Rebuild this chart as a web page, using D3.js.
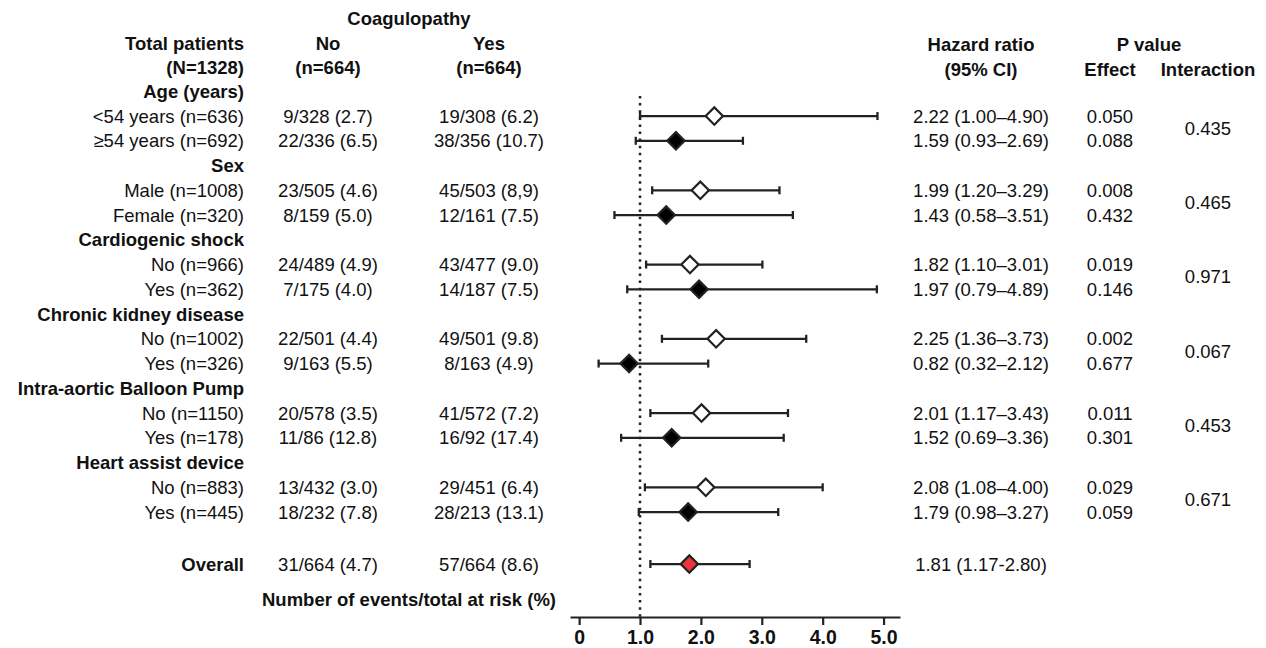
<!DOCTYPE html>
<html>
<head>
<meta charset="utf-8" />
<title>Coagulopathy subgroup forest plot</title>
<script src="https://d3js.org/d3.v7.min.js"></script>
<style>
body { margin: 0; background: #fff; }
svg { display: block; }
text { font-family: Arial, "Liberation Sans", sans-serif; font-size: 18.5px; fill: #111; }
.bold { font-weight: bold; }
.tick text { font-size: 19.5px; }
</style>
</head>
<body>
<div id="chart"></div>
<script>
// subgroup headings and rows
var groups = ["Age (years)", "Sex", "Cardiogenic shock", "Chronic kidney disease",
              "Intra-aortic Balloon Pump", "Heart assist device"];
var subgroups = ["<54 years (n=636)", "\u226554 years (n=692)",
                 "Male (n=1008)", "Female (n=320)",
                 "No (n=966)", "Yes (n=362)",
                 "No (n=1002)", "Yes (n=326)",
                 "No (n=1150)", "Yes (n=178)",
                 "No (n=883)", "Yes (n=445)"];
var noEvents = ["9/328 (2.7)", "22/336 (6.5)", "23/505 (4.6)", "8/159 (5.0)",
                "24/489 (4.9)", "7/175 (4.0)", "22/501 (4.4)", "9/163 (5.5)",
                "20/578 (3.5)", "11/86 (12.8)", "13/432 (3.0)", "18/232 (7.8)"];
var yesEvents = ["19/308 (6.2)", "38/356 (10.7)", "45/503 (8,9)", "12/161 (7.5)",
                 "43/477 (9.0)", "14/187 (7.5)", "49/501 (9.8)", "8/163 (4.9)",
                 "41/572 (7.2)", "16/92 (17.4)", "29/451 (6.4)", "28/213 (13.1)"];
var hr     = [2.22, 1.59, 1.99, 1.43, 1.82, 1.97, 2.25, 0.82, 2.01, 1.52, 2.08, 1.79];
var ciLow  = [1.00, 0.93, 1.20, 0.58, 1.10, 0.79, 1.36, 0.32, 1.17, 0.69, 1.08, 0.98];
var ciHigh = [4.90, 2.69, 3.29, 3.51, 3.01, 4.89, 3.73, 2.12, 3.43, 3.36, 4.00, 3.27];
var pEffect = ["0.050", "0.088", "0.008", "0.432", "0.019", "0.146",
               "0.002", "0.677", "0.011", "0.301", "0.029", "0.059"];
var pInteraction = ["0.435", "0.465", "0.971", "0.067", "0.453", "0.671"];

// overall row
var overallNo = "31/664 (4.7)", overallYes = "57/664 (8.6)";
var overallHr = 1.81, overallLow = 1.17, overallHigh = 2.80;
var overallHrText = "1.81 (1.17-2.80)";

var tickValues = [0, 1, 2, 3, 4, 5];
var tickLabels = ["0", "1.0", "2.0", "3.0", "4.0", "5.0"];

var width = 1266, height = 648;
var svg = d3.select("#chart").append("svg")
    .attr("width", width).attr("height", height);

// row positions: each group takes a heading row + 2 subgroup rows
var y = d3.scaleLinear().domain([0, 1]).range([91.3, 116.05]);
var x = d3.scaleLinear().domain([-0.15, 5.27]).range([570, 900]);

var colLabel = 244, colNo = 328, colYes = 489, colHr = 981, colEff = 1110, colInt = 1208;
var fmt = function(v) { return v.toFixed(2); };
function hrText(i) { return fmt(hr[i]) + " (" + fmt(ciLow[i]) + "\u2013" + fmt(ciHigh[i]) + ")"; }

function txt(xp, yp, s, anchor, bold) {
    return svg.append("text")
        .attr("x", xp).attr("y", yp).attr("dy", "0.35em")
        .attr("text-anchor", anchor)
        .classed("bold", !!bold)
        .text(s);
}

// column headers
txt(409, 19, "Coagulopathy", "middle", true);
txt(colLabel, 44, "Total patients", "end", true);
txt(colLabel, 68, "(N=1328)", "end", true);
txt(colNo, 44, "No", "middle", true);
txt(colNo, 68, "(n=664)", "middle", true);
txt(colYes, 44, "Yes", "middle", true);
txt(colYes, 68, "(n=664)", "middle", true);
txt(colHr, 45, "Hazard ratio", "middle", true);
txt(colHr, 70, "(95% CI)", "middle", true);
txt(1149, 45, "P value", "middle", true);
txt(colEff, 70, "Effect", "middle", true);
txt(colInt, 70, "Interaction", "middle", true);

// reference line at HR = 1
svg.append("line")
    .attr("x1", x(1)).attr("x2", x(1))
    .attr("y1", 96).attr("y2", 617)
    .attr("stroke", "#222").attr("stroke-width", 2.5)
    .attr("stroke-dasharray", "2.5,4.6");

var diamond = d3.symbol().type(d3.symbolSquare).size(150);

function drawRow(yp, est, lo, hi, fill) {
    var g = svg.append("g");
    g.append("line").attr("x1", x(lo)).attr("x2", x(hi)).attr("y1", yp).attr("y2", yp)
        .attr("stroke", "#222").attr("stroke-width", 2.3);
    [lo, hi].forEach(function(v) {
        g.append("line").attr("x1", x(v)).attr("x2", x(v)).attr("y1", yp - 4).attr("y2", yp + 4)
            .attr("stroke", "#222").attr("stroke-width", 2.3);
    });
    g.append("path")
        .attr("d", diamond)
        .attr("transform", "translate(" + x(est) + "," + yp + ") rotate(45)")
        .attr("fill", fill).attr("stroke", "#222").attr("stroke-width", 2.2);
}

groups.forEach(function(gname, gi) {
    var r0 = gi * 3;
    txt(colLabel, y(r0), gname, "end", true);
    for (var k = 0; k < 2; k++) {
        var i = gi * 2 + k, yp = y(r0 + 1 + k);
        txt(colLabel, yp, subgroups[i], "end");
        txt(colNo, yp, noEvents[i], "middle");
        txt(colYes, yp, yesEvents[i], "middle");
        txt(colHr, yp, hrText(i), "middle");
        txt(colEff, yp, pEffect[i], "middle");
        drawRow(yp, hr[i], ciLow[i], ciHigh[i], k === 0 ? "#fff" : "#000");
    }
    txt(colInt, y(r0 + 1.5), pInteraction[gi], "middle");
});

// overall
var yo = y(19.1);
txt(colLabel, yo, "Overall", "end", true);
txt(colNo, yo, overallNo, "middle");
txt(colYes, yo, overallYes, "middle");
txt(colHr, yo, overallHrText, "middle");
drawRow(yo, overallHr, overallLow, overallHigh, "#e8343a");

txt(409, 600, "Number of events/total at risk (%)", "middle", true);

// x axis
var axis = svg.append("g")
    .attr("transform", "translate(0,617)")
    .call(d3.axisBottom(x).tickValues(tickValues)
        .tickFormat(function(d, i) { return tickLabels[i]; })
        .tickSize(8).tickSizeOuter(0).tickPadding(5));
axis.select(".domain").attr("stroke", "#222").attr("stroke-width", 2.2);
axis.selectAll(".tick line").attr("stroke", "#222").attr("stroke-width", 2.2);
axis.selectAll(".tick text")
    .attr("font-family", null).attr("font-size", null)
    .classed("bold", true).style("fill", "#111");
</script>
</body>
</html>
